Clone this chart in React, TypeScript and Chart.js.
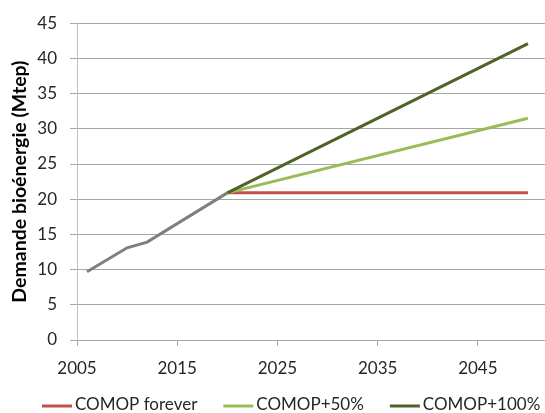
import React, { useEffect, useRef } from "react";
import { Chart, registerables } from "chart.js";

Chart.register(...registerables);

const histYears = [2006, 2010, 2012, 2020];
const histValues = [9.7, 13.1, 13.9, 20.9];
const scenarioYears = [2020, 2050];
const foreverValues = [20.9, 20.9];
const plus50Values = [20.9, 31.5];
const plus100Values = [20.9, 42.1];
const seriesLabels = ["COMOP forever", "COMOP+50%", "COMOP+100%"];
const xTicks = [2005, 2015, 2025, 2035, 2045];
const yTitle = "Demande bioénergie (Mtep)";

const FONT = "Lato, 'Liberation Sans', sans-serif";
const TEXT = "#262626";
const GRID = "#a6a6a6";

const toPoints = (xs: number[], ys: number[]) => xs.map((x, i) => ({ x, y: ys[i] }));

const legendPlugin = {
  id: "bottomLegend",
  afterDraw(chart: any) {
    const ctx = chart.ctx;
    ctx.save();
    ctx.font = `17px ${FONT}`;
    ctx.textBaseline = "middle";
    ctx.textAlign = "left";
    let x = 42;
    const y = 406;
    chart.data.datasets.forEach((ds: any) => {
      if (ds.hideInLegend) return;
      ctx.strokeStyle = ds.borderColor;
      ctx.lineWidth = 3;
      ctx.beginPath();
      ctx.moveTo(x, y);
      ctx.lineTo(x + 30, y);
      ctx.stroke();
      ctx.fillStyle = TEXT;
      ctx.fillText(ds.label, x + 33, y - 1);
      x += 33 + ctx.measureText(ds.label).width + 26;
    });
    ctx.restore();
  },
};

export default function App() {
  const ref = useRef<HTMLCanvasElement>(null);
  useEffect(() => {
    if (!ref.current) return;
    const chart = new Chart(ref.current, {
      type: "line",
      data: {
        datasets: [
          {
            label: "historique",
            hideInLegend: true,
            data: toPoints(histYears, histValues),
            borderColor: "#7f7f7f",
            borderWidth: 3,
            pointRadius: 0,
            order: 0,
          } as any,
          {
            label: seriesLabels[0],
            data: toPoints(scenarioYears, foreverValues),
            borderColor: "#c0504d",
            borderWidth: 3,
            pointRadius: 0,
            order: 3,
          },
          {
            label: seriesLabels[1],
            data: toPoints(scenarioYears, plus50Values),
            borderColor: "#9bbb59",
            borderWidth: 3,
            pointRadius: 0,
            order: 2,
          },
          {
            label: seriesLabels[2],
            data: toPoints(scenarioYears, plus100Values),
            borderColor: "#4f6228",
            borderWidth: 3,
            pointRadius: 0,
            order: 1,
          },
        ],
      },
      options: {
        animation: false,
        responsive: false,
        devicePixelRatio: 1,
        layout: { padding: { top: 23, right: 0, left: 0, bottom: 0 } },
        plugins: { legend: { display: false }, tooltip: { enabled: false } },
        scales: {
          x: {
            type: "linear",
            min: 2005,
            max: 2051.7,
            afterBuildTicks: (s: any) => {
              s.ticks = xTicks.map((v) => ({ value: v }));
            },
            afterFit: (s: any) => {
              s.height = 73;
            },
            ticks: {
              color: TEXT,
              font: { family: FONT, size: 17 },
              padding: 12,
              maxRotation: 0,
              callback: (v: any) => String(v),
            },
            grid: { drawOnChartArea: false, drawTicks: true, tickLength: 6, color: GRID },
            border: { display: true, color: GRID },
          },
          y: {
            min: 0,
            max: 45,
            afterFit: (s: any) => {
              s.width = 77;
            },
            ticks: {
              stepSize: 5,
              color: TEXT,
              font: { family: FONT, size: 17 },
              padding: 13,
            },
            grid: { color: GRID, tickLength: 7 },
            border: { display: true, color: "#bfbfbf" },
            title: {
              display: true,
              text: yTitle,
              color: "#000",
              font: { family: FONT, size: 19.5, weight: "bold" },
              padding: { top: 8, bottom: 0 },
            },
          },
        },
      } as any,
      plugins: [legendPlugin],
    });
    return () => chart.destroy();
  }, []);
  return (
    <div style={{ position: "fixed", left: 0, top: 0, width: 545, height: 413, background: "#fff" }}>
      <canvas ref={ref} width={545} height={413} style={{ width: 545, height: 413, display: "block" }} />
    </div>
  );
}
